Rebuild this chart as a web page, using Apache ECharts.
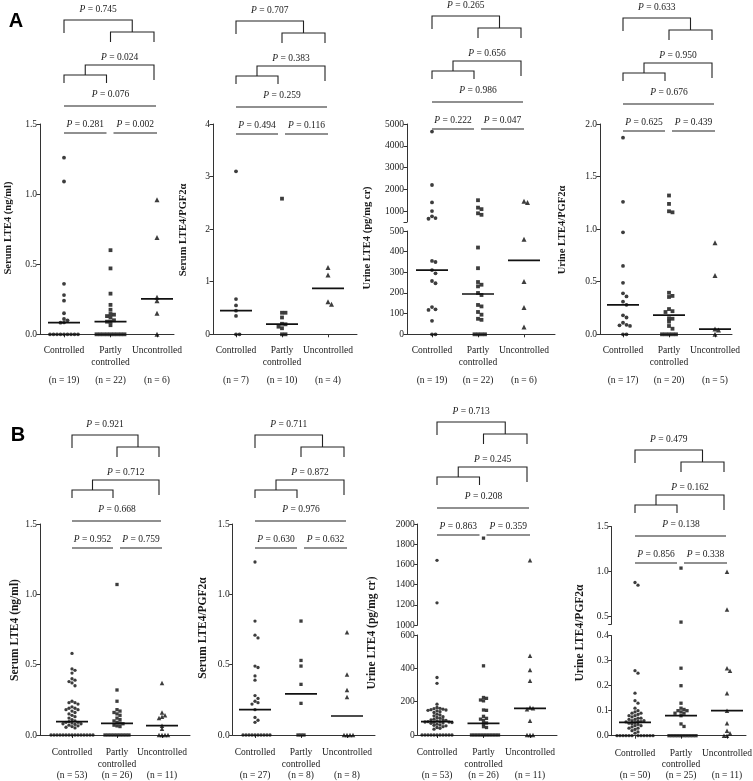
<!DOCTYPE html>
<html><head><meta charset="utf-8">
<script src="https://cdn.jsdelivr.net/npm/echarts@6/dist/echarts.min.js"></script>
<style>html,body{margin:0;padding:0;background:#fff}#c{width:753px;height:781px}</style>
</head><body><div id="c"></div>
<script>
// ---------- DATA ----------
const categories = ['Controlled', 'Partly\ncontrolled', 'Uncontrolled'];

// Panel A1: Serum LTE4 (ng/ml)
const a1Controlled = [1.26, 1.09, 0.36, 0.28, 0.24, 0.15, 0.11, 0.10, 0.085, 0.083, 0, 0, 0, 0, 0, 0, 0, 0, 0];
const a1Partly = [0.60, 0.47, 0.29, 0.21, 0.175, 0.145, 0.14, 0.13, 0.12, 0.10, 0.09, 0.09, 0.065, 0, 0, 0, 0, 0, 0, 0, 0, 0];
const a1Uncontrolled = [0.96, 0.69, 0.265, 0.24, 0.15, 0];
const a1N = [19, 22, 6];
const a1P = ['0.745', '0.024', '0.076', '0.281', '0.002'];
const a1Ticks = [0, 0.5, 1.0, 1.5];

// Panel A2: Serum LTE4/PGF2α
const a2Controlled = [3.1, 0.67, 0.55, 0.45, 0.35, 0, 0];
const a2Partly = [2.58, 0.41, 0.41, 0.32, 0.20, 0.19, 0.145, 0.115, 0, 0];
const a2Uncontrolled = [1.27, 1.13, 0.62, 0.57];
const a2N = [7, 10, 4];
const a2P = ['0.707', '0.383', '0.259', '0.494', '0.116'];
const a2Ticks = [0, 1, 2, 3, 4];

// Panel A3: Urine LTE4 (pg/mg cr)
const a3Controlled = [4650, 2200, 1400, 1000, 760, 680, 650, 355, 350, 311, 295, 258, 247, 132, 121, 118, 65, 0, 0];
const a3Partly = [1500, 1160, 1090, 900, 830, 420, 320, 253, 240, 232, 200, 190, 142, 135, 108, 95, 75, 70, 0, 0, 0, 0];
const a3Uncontrolled = [1450, 1400, 460, 255, 130, 35];
const a3N = [19, 22, 6];
const a3P = ['0.265', '0.656', '0.986', '0.222', '0.047'];
const a3TicksUpper = [1000, 2000, 3000, 4000, 5000];
const a3TicksLower = [0, 100, 200, 300, 400, 500];

// Panel A4: Urine LTE4/PGF2α
const a4Controlled = [1.87, 1.26, 0.97, 0.65, 0.49, 0.39, 0.36, 0.31, 0.28, 0.18, 0.16, 0.11, 0.09, 0.085, 0.08, 0, 0];
const a4Partly = [1.32, 1.24, 1.17, 1.16, 0.395, 0.365, 0.355, 0.24, 0.22, 0.212, 0.152, 0.148, 0.12, 0.079, 0.053, 0, 0, 0, 0, 0];
const a4Uncontrolled = [0.87, 0.56, 0.05, 0.04, 0];
const a4N = [17, 20, 5];
const a4P = ['0.633', '0.950', '0.676', '0.625', '0.439'];
const a4Ticks = [0, 0.5, 1.0, 1.5, 2.0];

// Panel B1: Serum LTE4 (ng/ml)
const b1Controlled = [0.58, 0.47, 0.46, 0.44, 0.40, 0.39, 0.38, 0.37, 0.35, 0.24, 0.23, 0.23, 0.22, 0.20, 0.19, 0.19, 0.18, 0.18, 0.17, 0.16, 0.15, 0.14, 0.13, 0.12, 0.11, 0.10,
  0.095, 0.09, 0.09, 0.085, 0.08, 0.08, 0.075, 0.07, 0.065, 0.06, 0.055, 0.05, 0, 0, 0, 0, 0, 0, 0, 0, 0, 0, 0, 0, 0, 0, 0];
const b1Partly = [1.07, 0.32, 0.24, 0.18, 0.17, 0.16, 0.15, 0.14, 0.12, 0.11, 0.10, 0.09, 0.085, 0.08, 0.07, 0.065, 0.06, 0, 0, 0, 0, 0, 0, 0, 0, 0];
const b1Uncontrolled = [0.37, 0.16, 0.14, 0.13, 0.12, 0.066, 0.045, 0, 0, 0, 0];
const b1N = [53, 26, 11];
const b1P = ['0.921', '0.712', '0.668', '0.952', '0.759'];
const b1Ticks = [0, 0.5, 1.0, 1.5];

// Panel B2: Serum LTE4/PGF2α
const b2Controlled = [1.23, 0.81, 0.71, 0.69, 0.49, 0.48, 0.42, 0.39, 0.28, 0.26, 0.24, 0.23, 0.22, 0.18, 0.125, 0.105, 0.09, 0, 0, 0, 0, 0, 0, 0, 0, 0, 0];
const b2Partly = [0.81, 0.53, 0.49, 0.36, 0.225, 0, 0, 0];
const b2Uncontrolled = [0.73, 0.43, 0.32, 0.27, 0, 0, 0, 0];
const b2N = [27, 8, 8];
const b2P = ['0.711', '0.872', '0.976', '0.630', '0.632'];
const b2Ticks = [0, 0.5, 1.0, 1.5];

// Panel B3: Urine LTE4 (pg/mg cr)
const b3Controlled = [1640, 1220, 345, 310, 185, 165, 160, 158, 155, 152, 150, 148, 145, 140, 135, 125, 120, 115, 110, 105, 100, 95, 92, 90, 88, 85,
  80, 80, 78, 78, 76, 75, 72, 70, 65, 60, 58, 55, 50, 45, 40, 35, 0, 0, 0, 0, 0, 0, 0, 0, 0, 0, 0];
const b3Partly = [1860, 415, 225, 220, 210, 205, 150, 148, 112, 100, 95, 88, 72, 68, 50, 45, 0, 0, 0, 0, 0, 0, 0, 0, 0, 0];
const b3Uncontrolled = [1640, 475, 390, 325, 165, 160, 155, 85, 0, 0, 0];
const b3N = [53, 26, 11];
const b3P = ['0.713', '0.245', '0.208', '0.863', '0.359'];
const b3TicksUpper = [1000, 1200, 1400, 1600, 1800, 2000];
const b3TicksLower = [0, 200, 400, 600];

// Panel B4: Urine LTE4/PGF2α
const b4Controlled = [0.88, 0.85, 0.26, 0.25, 0.17, 0.14, 0.13, 0.11, 0.10, 0.095, 0.09, 0.09, 0.085, 0.08, 0.08, 0.075, 0.07, 0.07, 0.065, 0.065,
  0.06, 0.06, 0.058, 0.056, 0.055, 0.052, 0.05, 0.048, 0.045, 0.04, 0.04, 0.035, 0.03, 0.03, 0.025, 0.02, 0.015, 0.01, 0, 0, 0, 0, 0, 0, 0, 0, 0, 0, 0, 0];
const b4Partly = [1.04, 0.44, 0.27, 0.20, 0.13, 0.11, 0.105, 0.10, 0.10, 0.095, 0.09, 0.09, 0.08, 0.047, 0.037, 0, 0, 0, 0, 0, 0, 0, 0, 0, 0];
const b4Uncontrolled = [1.0, 0.58, 0.27, 0.26, 0.17, 0.10, 0.05, 0.02, 0.01, 0, 0];
const b4N = [50, 25, 11];
const b4P = ['0.479', '0.162', '0.138', '0.856', '0.338'];
const b4TicksUpper = [0.5, 1.0, 1.5];
const b4TicksLower = [0, 0.1, 0.2, 0.3, 0.4];

// ---------- LAYOUT ----------
const FONT = '"Liberation Serif", "Times New Roman", serif';
const INK = '#1a1a1a';
const panels = [
  {row:'A', title:'Serum LTE4 (ng/ml)', groups:[a1Controlled,a1Partly,a1Uncontrolled], n:a1N, p:a1P,
   axisX:40, c0:64, step:46.5, end:174, pTop:9, titleX:8, titleY:228,
   segs:[{min:0,max:1.5,top:124,bottom:334.3,labels:a1Ticks,dec:1}]},
  {row:'A', title:'Serum LTE4/PGF2α', groups:[a2Controlled,a2Partly,a2Uncontrolled], n:a2N, p:a2P,
   axisX:213, c0:236, step:46, end:357, pTop:10, titleX:183, titleY:230,
   segs:[{min:0,max:4,top:124,bottom:334.3,labels:a2Ticks,dec:0}]},
  {row:'A', title:'Urine LTE4 (pg/mg cr)', groups:[a3Controlled,a3Partly,a3Uncontrolled], n:a3N, p:a3P,
   axisX:407, c0:432, step:46, end:555, pTop:5, titleX:367, titleY:238,
   segs:[{min:500,max:5000,top:124,bottom:222,labels:a3TicksUpper,dec:0,brk:true},
         {min:0,max:500,top:231,bottom:334.3,labels:a3TicksLower,dec:0}]},
  {row:'A', title:'Urine LTE4/PGF2α', groups:[a4Controlled,a4Partly,a4Uncontrolled], n:a4N, p:a4P,
   axisX:600, c0:623, step:46, end:732, pTop:7, titleX:562, titleY:230,
   segs:[{min:0,max:2,top:124,bottom:334.3,labels:a4Ticks,dec:1}]},
  {row:'B', title:'Serum LTE4 (ng/ml)', groups:[b1Controlled,b1Partly,b1Uncontrolled], n:b1N, p:b1P,
   axisX:40, c0:72, step:45, end:190, pTop:424, titleX:15, titleY:630,
   segs:[{min:0,max:1.5,top:524,bottom:735,labels:b1Ticks,dec:1}]},
  {row:'B', title:'Serum LTE4/PGF2α', groups:[b2Controlled,b2Partly,b2Uncontrolled], n:b2N, p:b2P,
   axisX:232.7, c0:255, step:46, end:375, pTop:424, titleX:203, titleY:628,
   segs:[{min:0,max:1.5,top:524,bottom:735,labels:b2Ticks,dec:1}]},
  {row:'B', title:'Urine LTE4 (pg/mg cr)', groups:[b3Controlled,b3Partly,b3Uncontrolled], n:b3N, p:b3P,
   axisX:417.7, c0:437, step:46.5, end:557, pTop:411, titleX:372, titleY:633,
   segs:[{min:1000,max:2000,top:524,bottom:625,labels:b3TicksUpper,dec:0},
         {min:0,max:600,top:635,bottom:735,labels:b3TicksLower,dec:0}]},
  {row:'B', title:'Urine LTE4/PGF2α', groups:[b4Controlled,b4Partly,b4Uncontrolled], n:b4N, p:b4P,
   axisX:611.7, c0:635, step:46, end:746, pTop:439, titleX:580, titleY:633,
   segs:[{min:0.42,max:1.5,top:526.7,bottom:623.9,labels:b4TicksUpper,dec:1,brk:true},
         {min:0,max:0.4,top:635.7,bottom:735.7,labels:b4TicksLower,dec:1}]}
];

const symbols = ['circle', 'rect', 'triangle'];

function median(arr) {
  const s = arr.slice().sort((a,b)=>a-b);
  const m = Math.floor(s.length/2);
  return s.length % 2 ? s[m] : (s[m-1]+s[m])/2;
}
function segOf(P, v) {
  for (let i = P.segs.length - 1; i >= 0; i--) {
    const s = P.segs[i];
    if (v >= s.min - 1e-9 && v <= s.max + 1e-9) return i;
  }
  return 0;
}
function pixY(P, v) {
  const s = P.segs[segOf(P, v)];
  return s.bottom - (v - s.min) / (s.max - s.min) * (s.bottom - s.top);
}
function swarm(values, pyFn, d) {
  const idx = values.map((v,i)=>i).sort((a,b)=>values[b]-values[a]);
  const placed = [];
  const dx = new Array(values.length).fill(0);
  idx.forEach(i => {
    const py = pyFn(values[i]);
    for (let k = 0; k < 200; k++) {
      const off = k === 0 ? 0 : (k % 2 ? 1 : -1) * Math.ceil(k/2) * d;
      const ok = placed.every(q => (q.x-off)*(q.x-off) + (q.y-py)*(q.y-py) >= d*d*0.9);
      if (ok) { placed.push({x: off, y: py}); dx[i] = off; break; }
    }
  });
  return dx;
}

const grids = [], xAxes = [], yAxes = [], series = [], graphics = [];

panels.forEach(P => {
  const xmin = -(P.c0 - P.axisX) / P.step;
  const xmax = (P.end - P.c0) / P.step;
  const isA = P.row === 'A';
  P.segs.forEach((s, si) => {
    const gi = grids.length;
    s.gi = gi;
    const isBottom = si === P.segs.length - 1;
    grids.push({left: P.axisX, top: s.top, width: P.end - P.axisX, height: s.bottom - s.top,
      containLabel: false, outerBoundsMode: 'none'});
    xAxes.push({
      gridIndex: gi, type: 'value', min: xmin, max: xmax, show: isBottom,
      splitLine: {show: false},
      axisLine: {show: true, onZero: false, lineStyle: {color: '#333', width: 1}},
      axisTick: {show: true, customValues: [0,1,2], length: 3, lineStyle: {color: '#333'}},
      axisLabel: {
        customValues: [0,1,2], margin: isA ? 10 : 12, color: INK,
        formatter: v => {
          const i = Math.round(v);
          const parts = categories[i].split('\n');
          const l2 = parts[1] || ' ';
          return '{c|' + parts[0] + '}\n{c|' + l2 + '}\n{n|(n = ' + P.n[i] + ')}';
        },
        rich: {
          c: {fontFamily: FONT, fontSize: 9.5, color: INK, lineHeight: isA ? 12 : 11.5},
          n: {fontFamily: FONT, fontSize: 9.5, color: INK, lineHeight: isA ? 24 : 10}
        }
      }
    });
    const ticks = s.brk ? [s.min].concat(s.labels) : s.labels;
    yAxes.push({
      gridIndex: gi, type: 'value', min: s.min, max: s.max,
      splitLine: {show: false},
      axisLine: {show: true, onZero: false, lineStyle: {color: '#333', width: 1}},
      axisTick: {show: true, customValues: ticks, length: 3.5, lineStyle: {color: '#333'}},
      axisLabel: {customValues: s.labels, margin: 3, fontFamily: FONT, fontSize: 9.5, color: INK,
        formatter: v => Number(v).toFixed(s.dec)}
    });
  });

  const d = isA ? 3.5 : 3.0;
  P.groups.forEach((vals, gi) => {
    const dxPix = swarm(vals, v => pixY(P, v), d);
    const perSeg = P.segs.map(() => []);
    vals.forEach((v, k) => perSeg[segOf(P, v)].push([gi + dxPix[k] / P.step, v]));
    perSeg.forEach((pts, si) => {
      if (!pts.length) return;
      const gIdx = P.segs[si].gi;
      series.push({
        type: 'scatter', xAxisIndex: gIdx, yAxisIndex: gIdx, data: pts, clip: false,
        symbol: symbols[gi],
        symbolSize: gi === 2 ? (isA ? 5 : 4.5) : (isA ? 3.8 : 3.3),
        itemStyle: {color: '#0d0d0d'}, z: 3, silent: true
      });
    });
    const m = median(vals);
    const hw = 16 / P.step;
    const gIdx = P.segs[segOf(P, m)].gi;
    series.push({
      type: 'line', xAxisIndex: gIdx, yAxisIndex: gIdx, data: [[gi - hw, m], [gi + hw, m]],
      symbol: 'none', lineStyle: {color: '#111', width: 1.7}, z: 2, silent: true
    });
  });

  // significance brackets
  const y0 = P.pTop;
  const c0 = P.c0, c1 = P.c0 + P.step, c2 = P.c0 + 2 * P.step;
  const c2b = c2 - 3, c1l = c1 - 4, c1r = c1 + 3;
  const stroke = {stroke: '#222', lineWidth: 1.1, fill: null};
  const poly = pts => graphics.push({type: 'polyline', shape: {points: pts}, style: stroke, silent: true});
  const ptxt = (x, y, val) => graphics.push({type: 'text', x: x, y: y, silent: true,
    style: {text: '{i|P} = ' + val, fontFamily: FONT, fontSize: 9.5, fill: INK, align: 'center', verticalAlign: 'middle',
      rich: {i: {fontFamily: FONT, fontSize: 9.5, fontStyle: 'italic', fill: INK}}}});
  const m12 = (c1 + c2b) / 2;
  poly([[c1, y0 + 33], [c1, y0 + 23], [c2b, y0 + 23], [c2b, y0 + 33]]);
  poly([[c0, y0 + 24], [c0, y0 + 11], [m12, y0 + 11], [m12, y0 + 23]]);
  ptxt((c0 + m12) / 2, y0, P.p[0]);
  const m01 = (c0 + c1l) / 2;
  poly([[c0, y0 + 74], [c0, y0 + 66], [c1l, y0 + 66], [c1l, y0 + 74]]);
  poly([[m01, y0 + 66], [m01, y0 + 56], [c2b, y0 + 56], [c2b, y0 + 71]]);
  ptxt((m01 + c2b) / 2, y0 + 48, P.p[1]);
  poly([[c0, y0 + 97], [c2 - 1, y0 + 97]]);
  ptxt((c0 + c2) / 2, y0 + 85, P.p[2]);
  poly([[c0, y0 + 124], [c1l, y0 + 124]]);
  ptxt((c0 + c1l) / 2, y0 + 115, P.p[3]);
  poly([[c1r, y0 + 124], [c2, y0 + 124]]);
  ptxt((c1r + c2) / 2, y0 + 115, P.p[4]);

  graphics.push({type: 'text', x: P.titleX, y: P.titleY, rotation: Math.PI / 2, silent: true,
    style: {text: P.title, fontFamily: FONT, fontWeight: 'bold', fontSize: isA ? 10.5 : 11.5, fill: INK,
      align: 'center', verticalAlign: 'middle'}});
});

graphics.push({type: 'text', x: 16, y: 21, silent: true,
  style: {text: 'A', fontFamily: '"Liberation Sans", Arial, sans-serif', fontWeight: 'bold', fontSize: 20, fill: '#000', align: 'center', verticalAlign: 'middle'}});
graphics.push({type: 'text', x: 18, y: 435, silent: true,
  style: {text: 'B', fontFamily: '"Liberation Sans", Arial, sans-serif', fontWeight: 'bold', fontSize: 20, fill: '#000', align: 'center', verticalAlign: 'middle'}});

const chart = echarts.init(document.getElementById('c'), null, {renderer: 'canvas', width: 753, height: 781});
chart.setOption({
  animation: false,
  backgroundColor: '#fff',
  grid: grids, xAxis: xAxes, yAxis: yAxes, series: series,
  graphic: graphics
});
</script></body></html>
